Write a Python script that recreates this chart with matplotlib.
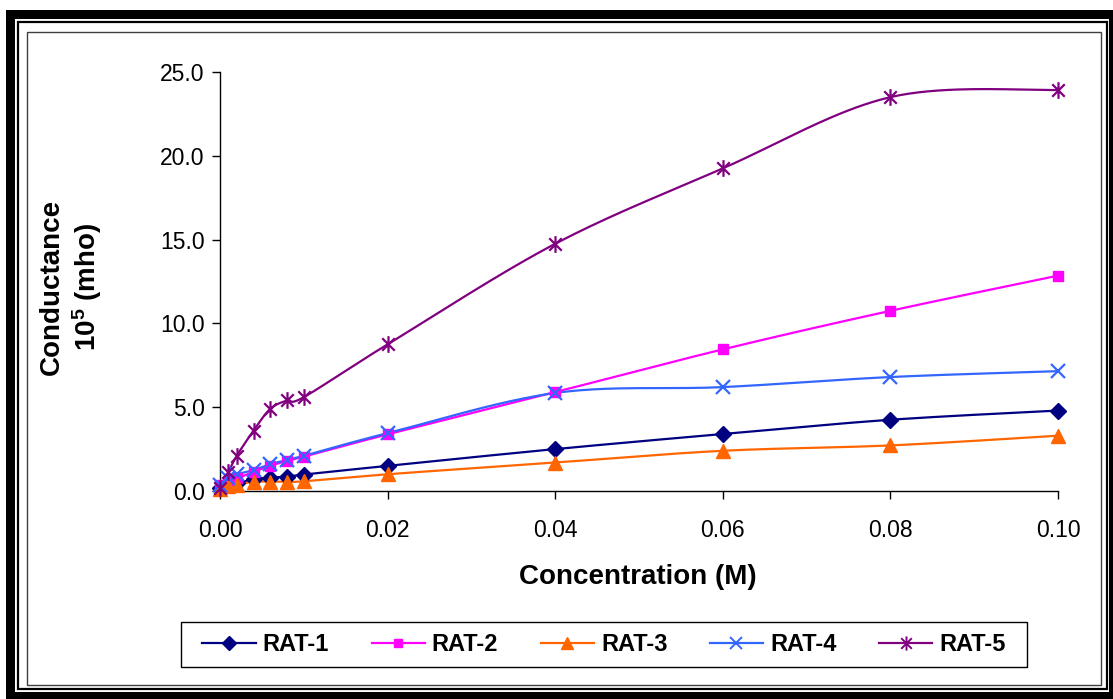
import numpy as np
import matplotlib
matplotlib.use("Agg")
import matplotlib.pyplot as plt
from matplotlib.path import Path
from matplotlib.lines import Line2D
from matplotlib.patches import Rectangle

plt.rcParams['font.family'] = ['Liberation Sans', 'DejaVu Sans']
plt.rcParams['mathtext.fontset'] = 'custom'
plt.rcParams['mathtext.rm'] = 'Liberation Sans'
plt.rcParams['mathtext.bf'] = 'Liberation Sans:bold'

# Concentration (M)
concentration = [0.0, 0.001, 0.002, 0.004, 0.006, 0.008, 0.01, 0.02, 0.04, 0.06, 0.08, 0.10]

# Conductance x 10^5 (mho)
rat1 = [0.20, 0.35, 0.45, 0.70, 0.80, 0.85, 0.98, 1.50, 2.50, 3.40, 4.25, 4.80]
rat2 = [0.35, 0.55, 0.75, 1.15, 1.50, 1.80, 2.05, 3.38, 5.90, 8.45, 10.75, 12.85]
rat3 = [0.10, 0.30, 0.38, 0.55, 0.56, 0.56, 0.58, 1.00, 1.70, 2.40, 2.72, 3.30]
rat4 = [0.35, 0.80, 1.00, 1.25, 1.60, 1.85, 2.10, 3.45, 5.85, 6.20, 6.80, 7.15]
rat5 = [0.15, 1.15, 2.10, 3.60, 4.90, 5.40, 5.60, 8.75, 14.75, 19.25, 23.50, 23.93]

series_names = ['RAT-1', 'RAT-2', 'RAT-3', 'RAT-4', 'RAT-5']
series_values = [rat1, rat2, rat3, rat4, rat5]
colors = ['#000080', '#FF00FF', '#FF6600', '#3366FF', '#800080']

# asterisk marker: vertical stroke plus a cross
star = Path([(0, -1), (0, 1), (-0.75, -0.75), (0.75, 0.75), (-0.75, 0.75), (0.75, -0.75)],
            [Path.MOVETO, Path.LINETO, Path.MOVETO, Path.LINETO, Path.MOVETO, Path.LINETO])
markers = ['D', 's', '^', 'x', star]
msizes = [8, 7.5, 10, 10, 12]

W, H = 1113, 699
fig = plt.figure(figsize=(W / 100, H / 100), dpi=100)

def px_rect(x0, y0, x1, y1, zorder=-5, **kw):
    fig.patches.append(Rectangle((x0 / W, 1 - y1 / H), (x1 - x0) / W, (y1 - y0) / H,
                                 transform=fig.transFigure, zorder=zorder, **kw))

# framed border
px_rect(6, 10, W, H, facecolor='black', edgecolor='none')
px_rect(15, 19, 1109, 692, facecolor='white', edgecolor='none')
px_rect(18, 22, 1107, 689, facecolor='none', edgecolor='black', linewidth=1.6)
px_rect(27, 32, 1101, 685, facecolor='none', edgecolor='#404040', linewidth=1.0)
# legend box
px_rect(181, 622, 1027, 667, facecolor='none', edgecolor='black', linewidth=1.0)

ax_l, ax_r, ax_t, ax_b = 220, 1058, 72, 491
ax = fig.add_axes([ax_l / W, 1 - ax_b / H, (ax_r - ax_l) / W, (ax_b - ax_t) / H])
ax.set_xlim(0, 0.10)
ax.set_ylim(0, 25)
ax.patch.set_alpha(0)

sx = (ax_r - ax_l) / 0.10
sy = (ax_b - ax_t) / 25.0

def smooth(xs, ys, n=40):
    # cubic Bezier smoothing done in screen space
    P = np.column_stack([np.asarray(xs) * sx, np.asarray(ys) * sy])
    out = [P[0]]
    m = len(P)
    for i in range(m - 1):
        p0 = P[i - 1] if i > 0 else P[i]
        p1, p2 = P[i], P[i + 1]
        p3 = P[i + 2] if i + 2 < m else P[i + 1]
        c1 = p1 + (p2 - p0) / 6.0
        c2 = p2 - (p3 - p1) / 6.0
        t = np.linspace(0, 1, n)[1:, None]
        seg = ((1 - t) ** 3) * p1 + 3 * ((1 - t) ** 2) * t * c1 + 3 * (1 - t) * t ** 2 * c2 + t ** 3 * p2
        out.extend(seg)
    out = np.array(out)
    return out[:, 0] / sx, out[:, 1] / sy

handles = []
for name, vals, c, mk, ms in zip(series_names, series_values, colors, markers, msizes):
    xs, ys = smooth(concentration, vals)
    ax.plot(xs, ys, color=c, lw=1.6, clip_on=False, zorder=3)
    filled = mk in ('D', 's', '^')
    ax.plot(concentration, vals, linestyle='none', marker=mk, markersize=ms,
            markerfacecolor=c if filled else 'none', markeredgecolor=c,
            markeredgewidth=1.0 if filled else 1.6, clip_on=False, zorder=4)
    handles.append(Line2D([], [], color=c, lw=1.6, marker=mk, markersize=ms * 0.85,
                          markerfacecolor=c if filled else 'none', markeredgecolor=c,
                          markeredgewidth=1.0 if filled else 1.4))

for s in ['top', 'right']:
    ax.spines[s].set_visible(False)
for s in ['left', 'bottom']:
    ax.spines[s].set_color('black')
    ax.spines[s].set_linewidth(1.0)

ax.set_xticks(np.arange(0, 0.101, 0.02))
ax.set_xticklabels([f'{v:.2f}' for v in np.arange(0, 0.101, 0.02)])
ax.set_yticks(np.arange(0, 25.1, 5))
ax.set_yticklabels([f'{v:.1f}' for v in np.arange(0, 25.1, 5)])
ax.tick_params(axis='x', direction='out', length=6, width=1, pad=14, labelsize=16.5)
ax.tick_params(axis='y', direction='out', length=6, width=1, pad=5, labelsize=16.5)

fig.text(638 / W, 1 - 577 / H, 'Concentration (M)', ha='center', va='center',
         fontsize=20, fontweight='bold')
fig.text(52 / W, 1 - 287 / H, 'Conductance', ha='center', va='center', rotation=90,
         fontsize=20, fontweight='bold')
fig.text(87 / W, 1 - 287 / H, r'$\mathbf{10^{5}}$ (mho)', ha='center', va='center',
         rotation=90, fontsize=20, fontweight='bold')

leg = fig.legend(handles, series_names, loc='center', ncol=5,
                 bbox_to_anchor=(604 / W, 1 - 644.5 / H), frameon=False,
                 prop={'weight': 'bold', 'size': 17},
                 handlelength=2.25, handletextpad=0.3, columnspacing=1.8,
                 borderpad=0.3)

fig.savefig('out.png', dpi=100)
